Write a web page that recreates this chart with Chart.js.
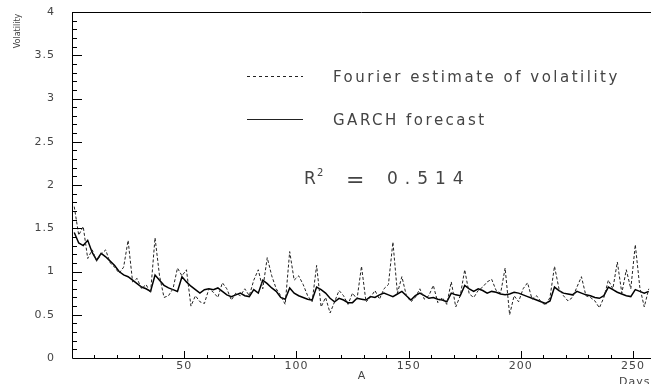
<!DOCTYPE html>
<html>
<head>
<meta charset="utf-8">
<script src="https://cdn.jsdelivr.net/npm/chart.js@4.4.3/dist/chart.umd.min.js"></script>
<style>
html, body { margin: 0; padding: 0; background: #fff; }
#wrap { width: 651px; height: 384px; }
</style>
</head>
<body>
<div id="wrap"><canvas id="chart" width="651" height="384"></canvas></div>
<script>
// trading days, sampled every second day (1, 3, 5 ... 257)
const days = Array.from({length: 129}, (_, i) => 1 + i * 2);

const fourier = [
    1.75, 1.42, 1.52, 1.15, 1.25, 1.12, 1.20, 1.25, 1.10, 1.05,
    0.98, 1.05, 1.36, 0.88, 0.92, 0.80, 0.85, 0.75, 1.39, 0.95,
    0.70, 0.72, 0.80, 1.04, 0.95, 1.02, 0.60, 0.72, 0.65, 0.63,
    0.80, 0.76, 0.70, 0.87, 0.80, 0.67, 0.75, 0.72, 0.80, 0.72,
    0.90, 1.02, 0.80, 1.16, 0.95, 0.80, 0.72, 0.62, 1.23, 0.90,
    0.95, 0.85, 0.72, 0.65, 1.07, 0.59, 0.70, 0.52, 0.65, 0.78,
    0.72, 0.62, 0.75, 0.68, 1.06, 0.65, 0.70, 0.78, 0.68, 0.80,
    0.85, 1.34, 0.75, 0.94, 0.72, 0.65, 0.70, 0.80, 0.68, 0.72,
    0.84, 0.64, 0.70, 0.62, 0.88, 0.59, 0.72, 1.02, 0.74, 0.70,
    0.78, 0.82, 0.88, 0.91, 0.78, 0.75, 1.04, 0.50, 0.72, 0.65,
    0.80, 0.87, 0.68, 0.72, 0.65, 0.61, 0.70, 1.06, 0.80, 0.72,
    0.66, 0.70, 0.82, 0.94, 0.72, 0.70, 0.66, 0.58, 0.70, 0.90,
    0.80, 1.11, 0.75, 1.02, 0.80, 1.31, 0.82, 0.59, 0.80
];

const garch = [
    1.45, 1.33, 1.30, 1.36, 1.22, 1.13, 1.21, 1.17, 1.12, 1.07,
    1.00, 0.96, 0.94, 0.90, 0.86, 0.82, 0.80, 0.77, 0.96, 0.90,
    0.84, 0.81, 0.79, 0.77, 0.94, 0.88, 0.83, 0.79, 0.75, 0.79,
    0.80, 0.79, 0.81, 0.77, 0.73, 0.71, 0.73, 0.75, 0.72, 0.71,
    0.79, 0.75, 0.90, 0.86, 0.81, 0.77, 0.70, 0.68, 0.81, 0.75,
    0.72, 0.70, 0.68, 0.67, 0.82, 0.79, 0.75, 0.69, 0.65, 0.69,
    0.67, 0.64, 0.64, 0.69, 0.68, 0.67, 0.71, 0.70, 0.73, 0.75,
    0.73, 0.71, 0.74, 0.77, 0.72, 0.67, 0.72, 0.75, 0.72, 0.69,
    0.70, 0.68, 0.67, 0.65, 0.75, 0.73, 0.72, 0.84, 0.80, 0.77,
    0.80, 0.78, 0.75, 0.77, 0.76, 0.74, 0.73, 0.74, 0.76, 0.75,
    0.73, 0.71, 0.69, 0.67, 0.65, 0.63, 0.66, 0.82, 0.78, 0.75,
    0.74, 0.73, 0.77, 0.75, 0.73, 0.72, 0.70, 0.69, 0.72, 0.82,
    0.79, 0.76, 0.74, 0.72, 0.71, 0.79, 0.77, 0.75, 0.77
];

const yLabels = ['0', '0.5', '1', '1.5', '2', '2.5', '3', '3.5', '4'];
const xLabels = ['50', '100', '150', '200', '250'];

const toPoints = (vals) => vals.map((v, i) => ({x: days[i], y: v}));

const TEXT = '#444';

// axes, tick marks and annotations drawn in the old PAW style
const paperAxes = {
    id: 'paperAxes',
    afterDraw(chart) {
        const {ctx, chartArea: a, scales: {x, y}} = chart;
        ctx.save();
        ctx.strokeStyle = '#000';
        ctx.lineWidth = 1;
        ctx.setLineDash([]);

        // frame: left axis, bottom axis, top line
        ctx.beginPath();
        ctx.moveTo(a.left + 0.5, a.top + 0.5);
        ctx.lineTo(a.left + 0.5, a.bottom + 0.5);
        ctx.lineTo(a.right, a.bottom + 0.5);
        ctx.moveTo(a.left, a.top + 0.5);
        ctx.lineTo(a.right, a.top + 0.5);
        ctx.stroke();

        // y ticks every 0.1, long ones every 0.5
        ctx.beginPath();
        for (let k = 1; k < 40; k++) {
            const py = Math.round(y.getPixelForValue(k / 10)) + 0.5;
            const len = k % 5 === 0 ? 10 : 5;
            ctx.moveTo(a.left, py);
            ctx.lineTo(a.left + len, py);
        }
        // x ticks every 10 days, long ones every 50
        for (let d = 10; d <= 250; d += 10) {
            const px = Math.round(x.getPixelForValue(d)) + 0.5;
            const len = d % 50 === 0 ? 7 : 3;
            ctx.moveTo(px, a.bottom);
            ctx.lineTo(px, a.bottom - len);
        }
        ctx.stroke();

        ctx.fillStyle = TEXT;
        ctx.font = '11px "DejaVu Sans"';
        ctx.letterSpacing = '1px';
        ctx.textAlign = 'right';
        ctx.textBaseline = 'middle';
        yLabels.forEach(l => {
            ctx.fillText(l, a.left - 17, y.getPixelForValue(parseFloat(l)));
        });
        ctx.textAlign = 'center';
        xLabels.forEach(l => {
            ctx.fillText(l, x.getPixelForValue(parseFloat(l)), a.bottom + 8);
        });

        // axis titles
        ctx.textAlign = 'left';
        ctx.textBaseline = 'top';
        ctx.fillText('Days', 619, 377);
        ctx.textAlign = 'center';
        ctx.textBaseline = 'middle';
        ctx.fillText('A', 362, 376);

        ctx.save();
        ctx.translate(18, 31);
        ctx.rotate(-Math.PI / 2);
        ctx.font = '8px "DejaVu Sans"';
        ctx.letterSpacing = '0px';
        ctx.fillText('Volatility', 0, 0);
        ctx.restore();

        // legend
        ctx.strokeStyle = '#222';
        ctx.beginPath();
        ctx.setLineDash([3, 3]);
        ctx.moveTo(247, 76.5);
        ctx.lineTo(303, 76.5);
        ctx.stroke();
        ctx.setLineDash([]);
        ctx.beginPath();
        ctx.moveTo(247, 119.5);
        ctx.lineTo(303, 119.5);
        ctx.stroke();

        ctx.font = '15px "DejaVu Sans"';
        ctx.letterSpacing = '2.5px';
        ctx.textAlign = 'left';
        ctx.fillText('Fourier estimate of volatility', 333, 78);
        ctx.fillText('GARCH forecast', 333, 121);

        // R squared
        ctx.font = '17px "DejaVu Sans"';
        ctx.letterSpacing = '0px';
        ctx.fillText('R', 304, 180);
        ctx.font = '10px "DejaVu Sans"';
        ctx.fillText('2', 317, 173);
        ctx.font = '22px "DejaVu Sans"';
        ctx.fillText('=', 346, 181);
        ctx.font = '17px "DejaVu Sans"';
        ctx.letterSpacing = '7px';
        ctx.fillText('0.514', 387, 180);

        ctx.restore();
    }
};

new Chart(document.getElementById('chart'), {
    type: 'line',
    data: {
        datasets: [{
            label: 'Fourier estimate of volatility',
            data: toPoints(fourier),
            borderColor: '#222',
            borderWidth: 1,
            borderDash: [3, 2],
            pointRadius: 0,
            tension: 0
        }, {
            label: 'GARCH forecast',
            data: toPoints(garch),
            borderColor: '#000',
            borderWidth: 1.5,
            pointRadius: 0,
            tension: 0
        }]
    },
    options: {
        responsive: false,
        animation: false,
        devicePixelRatio: 1,
        layout: {padding: {left: 72, top: 12, right: 0, bottom: 26}},
        plugins: {legend: {display: false}, tooltip: {enabled: false}},
        scales: {
            x: {type: 'linear', min: 0, max: 258, display: false},
            y: {min: 0, max: 4, display: false}
        }
    },
    plugins: [paperAxes]
});
</script>
</body>
</html>
